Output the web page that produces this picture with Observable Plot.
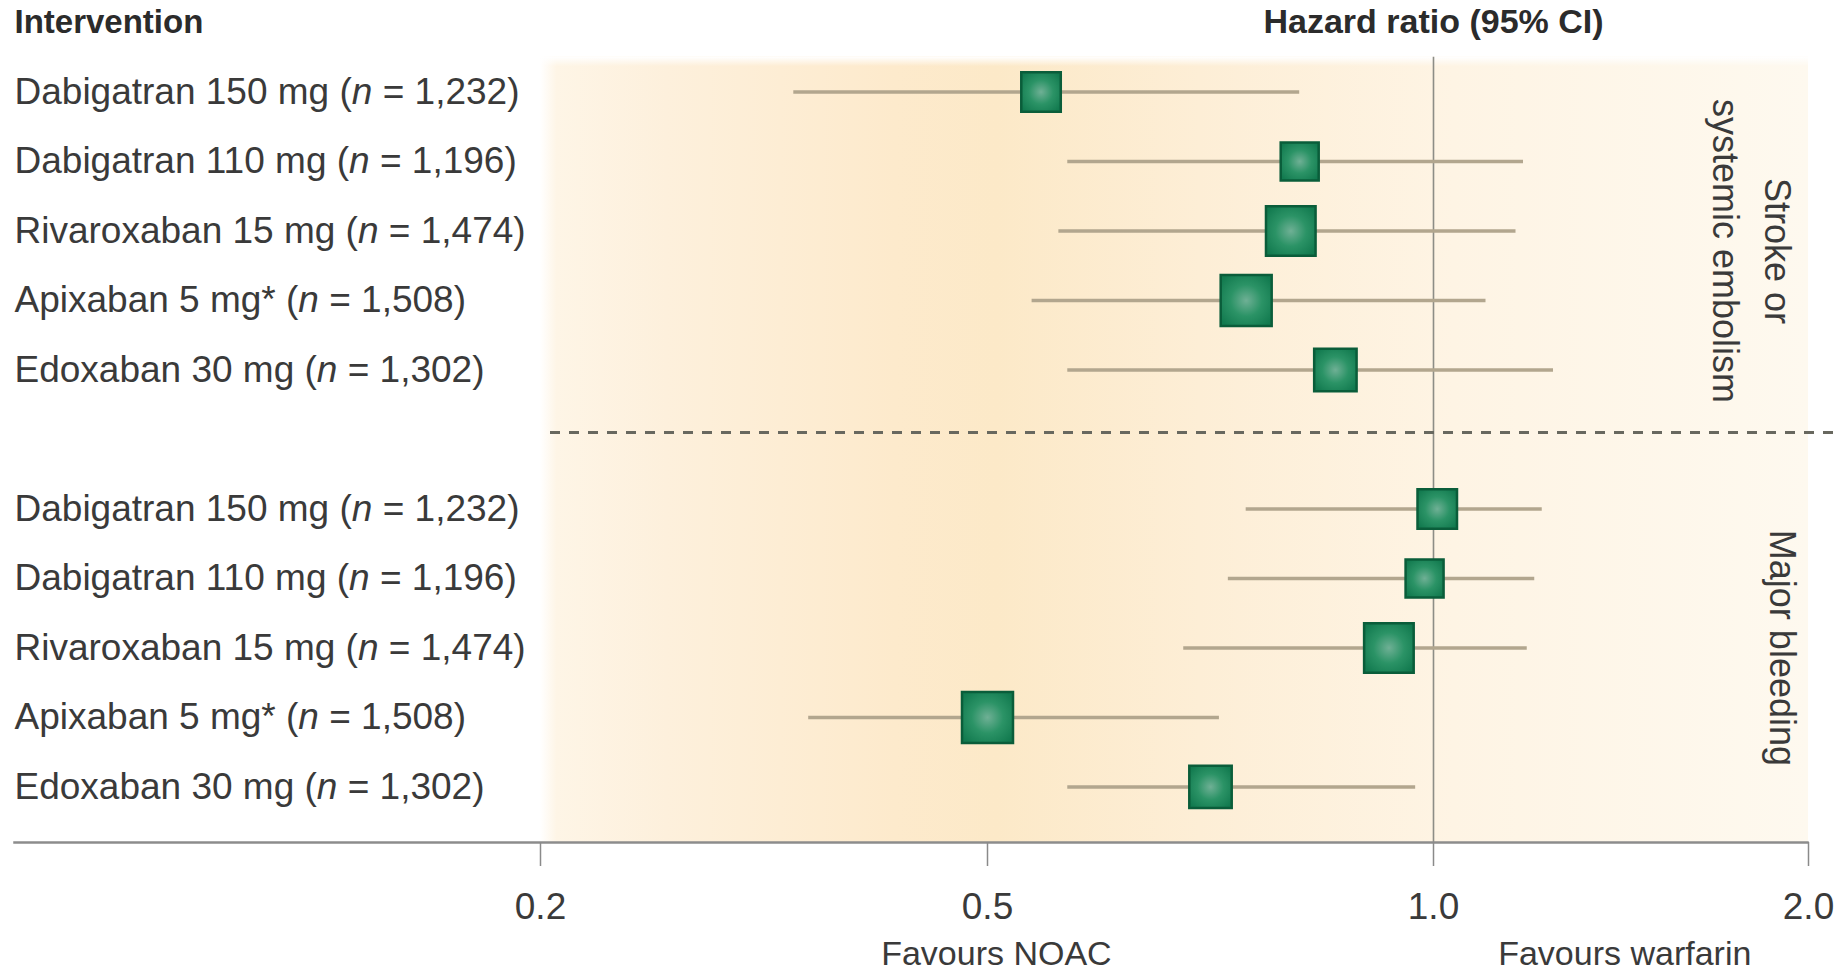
<!DOCTYPE html>
<html><head><meta charset="utf-8">
<script src="https://cdn.jsdelivr.net/npm/d3@7"></script>
<script src="https://cdn.jsdelivr.net/npm/@observablehq/plot@0.6"></script>
<style>
html,body{margin:0;padding:0;background:#fff;}
#chart svg{display:block;}
</style></head><body><div id="chart"></div>
<script>
// ---- data ----
const outcomes = ["Stroke or\nsystemic embolism", "Major bleeding"];
const drugs = ["Dabigatran 150 mg", "Dabigatran 110 mg", "Rivaroxaban 15 mg", "Apixaban 5 mg*", "Edoxaban 30 mg"];
const nPatients = [1232, 1196, 1474, 1508, 1302];
const hrStroke = [0.56, 0.85, 0.84, 0.79, 0.89];
const loStroke = [0.37, 0.59, 0.58, 0.55, 0.59];
const hiStroke = [0.85, 1.24, 1.22, 1.14, 1.32];
const hrBleed = [1.01, 0.99, 0.95, 0.50, 0.75];
const loBleed = [0.79, 0.77, 0.72, 0.38, 0.59];
const hiBleed = [1.29, 1.27, 1.25, 0.76, 0.98];
const xTicks = [0.2, 0.5, 1.0, 2.0];
const xTickLabels = ["0.2", "0.5", "1.0", "2.0"];
const favourLabels = ["Favours NOAC", "Favours warfarin"];
const favourX = [0.51, 1.51];
const headers = ["Intervention", "Hazard ratio (95% CI)"];

// ---- table ----
const rows = [];
outcomes.forEach((o, g) => {
  const hr = g === 0 ? hrStroke : hrBleed;
  const lo = g === 0 ? loStroke : loBleed;
  const hi = g === 0 ? hiStroke : hiBleed;
  drugs.forEach((d, i) => rows.push({
    outcome: o, drug: d, n: nPatients[i],
    label: `${d} (n = ${nPatients[i].toLocaleString("en-US")})`,
    row: g * 6 + i, hr: hr[i], lo: lo[i], hi: hi[i]
  }));
});
const yBottom = 10.8;
const font = "'Liberation Sans', Arial, Helvetica, sans-serif";
const textColor = "#3a3a3a";

const plot = Plot.plot({
  width: 1843, height: 972,
  marginLeft: 14, marginRight: 36, marginTop: 0, marginBottom: 130,
  style: {fontFamily: font, background: "#fff", overflow: "visible"},
  x: {type: "linear", domain: xTicks, range: [540, 987, 1433, 1808], axis: null},
  y: {type: "linear", domain: [-1, yBottom], range: [22, 842], axis: null},
  r: {type: "linear", domain: [1196, 1508], range: [38 / Math.sqrt(Math.PI), 51 / Math.sqrt(Math.PI)]},
  marks: [
    Plot.rect([0], {x1: xTicks[0], x2: xTicks[3], y1: -0.5, y2: yBottom, fill: "url(#bgGrad)"}),
    Plot.rect([0], {x1: xTicks[0], x2: xTicks[3], y1: -0.5, y2: yBottom, fill: "url(#topFade)"}),
    Plot.ruleX([1], {y1: -0.5, y2: yBottom, stroke: "#8d8d86", strokeWidth: 1.6}),
    Plot.ruleY([5], {x1: xTicks[0], x2: xTicks[3], insetLeft: 10, insetRight: -32, dy: -7, stroke: "#68685f", strokeWidth: 3, strokeDasharray: "10,9"}),
    Plot.frame({anchor: "bottom", stroke: "#8c8c8c", strokeWidth: 2.5}),
    Plot.axisX(xTicks, {anchor: "bottom", tickSize: 24, tickPadding: 26, fontSize: 37,
      tickFormat: d => xTickLabels[xTicks.indexOf(d)], stroke: "#8a8a8a", strokeWidth: 1.5, fill: textColor}),
    Plot.ruleY(rows, {y: "row", x1: "lo", x2: "hi", stroke: "#b2a68e", strokeWidth: 3.5}),
    Plot.dot(rows, {x: "hr", y: "row", r: "n", symbol: "square", fill: "url(#sqGrad)", stroke: "#0a5d3a", strokeWidth: 2.5}),
    Plot.text(rows, {y: "row", text: "label", frameAnchor: "left", textAnchor: "start", fontSize: 37, fill: textColor}),
    Plot.text([headers[0]], {y: -1, frameAnchor: "left", textAnchor: "start", fontSize: 33, fontWeight: "bold", fill: "#2b2b2b"}),
    Plot.text([headers[1]], {x: 1, y: -1, textAnchor: "middle", fontSize: 34, fontWeight: "bold", fill: "#2b2b2b"}),
    Plot.text([outcomes[0]], {y: 2, dy: 20, frameAnchor: "right", dx: -52, rotate: 90, textAnchor: "middle", lineAnchor: "middle", fontSize: 36, lineHeight: 1.45, fill: textColor}),
    Plot.text([outcomes[1]], {y: 8, frameAnchor: "right", dx: -26, rotate: 90, textAnchor: "middle", lineAnchor: "middle", fontSize: 36, fill: textColor}),
    Plot.text(favourLabels, {x: (d, i) => favourX[i], frameAnchor: "bottom", dy: 112, textAnchor: "middle", lineAnchor: "middle", fontSize: 34, fill: textColor})
  ]
});

// gradients (style only)
const svg = d3.select(plot);
const defs = svg.insert("defs", ":first-child");
const bg = defs.append("linearGradient").attr("id", "bgGrad").attr("x1", 0).attr("x2", 1).attr("y1", 0).attr("y2", 0);
[[0, "#ffffff"], [0.013, "#fef5e6"], [0.1, "#fdf0dc"], [0.28, "#fdeacc"], [0.36, "#fce9c8"], [0.52, "#fdeed6"], [0.72, "#fef4e4"], [1, "#fef9ef"]]
  .forEach(([o, c]) => bg.append("stop").attr("offset", o).attr("stop-color", c));
const tf = defs.append("linearGradient").attr("id", "topFade").attr("x1", 0).attr("x2", 0).attr("y1", 0).attr("y2", 1);
[[0, "#ffffff", 1], [0.012, "#ffffff", 0]].forEach(([o, c, op]) => tf.append("stop").attr("offset", o).attr("stop-color", c).attr("stop-opacity", op));
const sq = defs.append("radialGradient").attr("id", "sqGrad").attr("cx", 0.5).attr("cy", 0.5).attr("r", 0.62);
[[0, "#6fb095"], [0.5, "#2b9366"], [1, "#127a4f"]].forEach(([o, c]) => sq.append("stop").attr("offset", o).attr("stop-color", c));

// italic n in row labels
svg.selectAll("text").each(function() {
  if (this.querySelector("tspan")) return;
  const t = this.textContent;
  const k = t.indexOf("(n = ");
  if (k < 0) return;
  const sel = d3.select(this);
  sel.text(null);
  sel.append("tspan").text(t.slice(0, k + 1));
  sel.append("tspan").attr("font-style", "italic").text("n");
  sel.append("tspan").text(t.slice(k + 2));
});

document.getElementById("chart").appendChild(plot);
</script>
</body></html>
